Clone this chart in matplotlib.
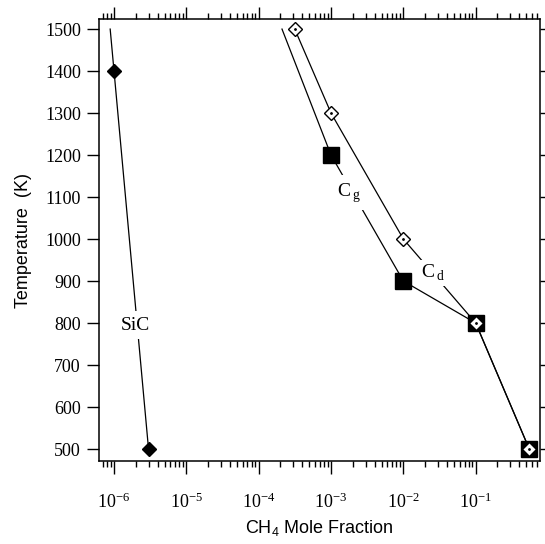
import matplotlib
matplotlib.use('Agg')
import matplotlib.pyplot as plt
from matplotlib.ticker import FixedLocator, LogLocator, NullFormatter

plt.rcParams['mathtext.fontset'] = 'custom'
plt.rcParams['mathtext.rm'] = 'Liberation Serif'
plt.rcParams['mathtext.sf'] = 'Liberation Sans'

# SiC curve
sic_x = [1e-6, 3e-6]
sic_t = [1400, 500]
sic_line_x = [8.85e-7, 1e-6, 3e-6]
sic_line_t = [1500, 1400, 500]

# C graphite (filled squares)
cg_x = [1e-3, 1e-2, 1e-1, 0.55]
cg_t = [1200, 900, 800, 500]
cg_line_x = [2.1e-4, 1e-3, 1e-2, 1e-1, 0.55]
cg_line_t = [1500, 1200, 900, 800, 500]

# C diamond (open diamonds)
cd_x = [3.15e-4, 1e-3, 1e-2, 1e-1, 0.55]
cd_t = [1500, 1300, 1000, 800, 500]

decades = [1e-6, 1e-5, 1e-4, 1e-3, 1e-2, 1e-1]
dec_labels = ['-6', '-5', '-4', '-3', '-2', '-1']
temps = [500, 600, 700, 800, 900, 1000, 1100, 1200, 1300, 1400, 1500]

fig = plt.figure(figsize=(5.45, 5.44), dpi=100)
ax = fig.add_axes([99/545, 83/544, 441/545, 442/544])

ax.plot(sic_line_x, sic_line_t, 'k-', lw=0.9)
ax.plot(sic_x, sic_t, 'kD', ms=7)

ax.plot(cg_line_x, cg_line_t, 'k-', lw=0.9)
ax.plot(cg_x, cg_t, 'ks', ms=11.5)

ax.plot(cd_x, cd_t, 'k-', lw=0.9)
ax.plot(cd_x, cd_t, 'D', ms=7, mfc='white', mec='black', mew=1.0, ls='none')
ax.plot(cd_x, cd_t, 'k.', ms=2)

ax.set_xscale('log')
ax.set_xlim(6.2e-7, 0.774)
ax.set_ylim(471.5, 1524)

ax.xaxis.set_major_locator(FixedLocator(decades))
ax.set_xticklabels(['$\\mathrm{10^{' + s + '}}$' for s in dec_labels],
                   fontsize=13)
ax.xaxis.set_minor_locator(LogLocator(base=10, subs=range(2, 10), numticks=20))
ax.xaxis.set_minor_formatter(NullFormatter())
ax.set_yticks(temps)
ax.set_yticklabels([str(t) for t in temps], family='Liberation Serif', fontsize=13)

ax.tick_params(which='both', direction='out', top=True, right=True, width=1.0)
ax.tick_params(axis='x', which='major', length=9, pad=14)
ax.tick_params(axis='x', which='minor', length=4.5)
ax.tick_params(axis='y', which='major', length=9, pad=4)
for sp in ax.spines.values():
    sp.set_linewidth(1.1)

ax.set_xlabel('CH$_\\mathsf{4}$ Mole Fraction', family='Liberation Sans', fontsize=13)
ax.set_ylabel('Temperature  (K)', family='Liberation Sans', fontsize=13)
ax.xaxis.set_label_coords(0.5, -0.128)
ax.yaxis.set_label_coords(-0.152, 0.5)

box = dict(facecolor='white', edgecolor='none', pad=4)
ax.text(1.95e-6, 795, 'SiC', family='Liberation Serif', fontsize=14,
        ha='center', va='center', bbox=box)
ax.text(1.75e-3, 1110, 'C$_{\\,\\mathrm{g}}$', family='Liberation Serif', fontsize=14,
        ha='center', va='center', bbox=box)
ax.text(2.55e-2, 920, 'C$_{\\,\\mathrm{d}}$', family='Liberation Serif', fontsize=14,
        ha='center', va='center', bbox=dict(facecolor='white', edgecolor='none', pad=2))

fig.savefig('out.png', dpi=100)
